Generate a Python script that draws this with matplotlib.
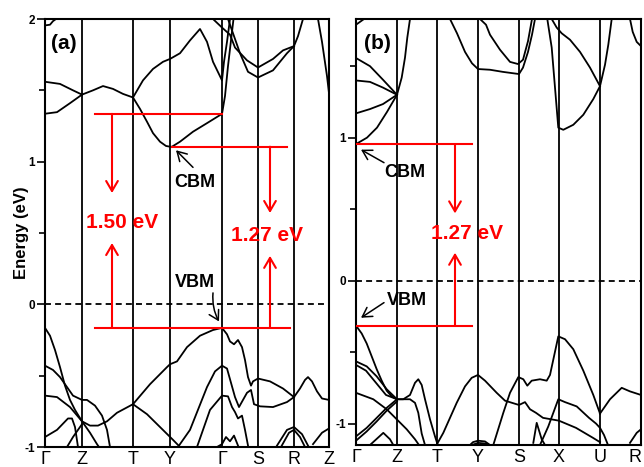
import matplotlib
matplotlib.use("Agg")
import matplotlib.pyplot as plt
from matplotlib.ticker import MultipleLocator, FuncFormatter

plt.rcParams['font.family'] = ['Liberation Sans', 'DejaVu Sans']

# ---------------- high-symmetry path ----------------
a_kpts = [0.0, 0.37, 0.88, 1.25, 1.77, 2.13, 2.49, 2.84]
a_klabels = ['Γ', 'Z', 'T', 'Y', 'Γ', 'S', 'R', 'Z']
b_kpts = [0.0, 0.41, 0.81, 1.22, 1.63, 2.03, 2.44, 2.85]
b_klabels = ['Γ', 'Z', 'T', 'Y', 'S', 'X', 'U', 'R']

# ---------------- panel (a) bands: (k, E in eV) ----------------
a_c1 = [(0, 1.56), (0.15, 1.545), (0.28, 1.50), (0.37, 1.47)]
a_c2 = [(0, 1.336), (0.12, 1.347), (0.25, 1.41), (0.37, 1.47)]
a_c3 = [(0.37, 1.47), (0.48, 1.50), (0.58, 1.53), (0.68, 1.51), (0.78, 1.475), (0.88, 1.45)]
a_c4 = [(0.88, 1.45), (0.98, 1.57), (1.08, 1.65), (1.18, 1.70), (1.25, 1.72), (1.35, 1.76),
        (1.45, 1.85), (1.55, 1.93), (1.62, 1.84), (1.68, 1.70), (1.77, 1.57), (1.79, 1.70),
        (1.82, 1.84), (1.85, 2.0)]
a_c5 = [(0.88, 1.45), (0.95, 1.37), (1.02, 1.28), (1.08, 1.20), (1.15, 1.14), (1.21, 1.11),
        (1.25, 1.105), (1.27, 1.105), (1.35, 1.14), (1.48, 1.21), (1.62, 1.27), (1.77, 1.335),
        (1.80, 1.46), (1.83, 1.67), (1.865, 1.88), (1.885, 2.0)]
a_c6 = [(1.68, 2.0), (1.77, 1.94), (1.85, 1.89), (1.90, 1.80), (2.02, 1.71), (2.13, 1.66),
        (2.28, 1.72), (2.38, 1.78), (2.49, 1.81)]
a_c7 = [(1.83, 2.0), (1.88, 1.90), (1.95, 1.76), (2.03, 1.63), (2.13, 1.59), (2.28, 1.64),
        (2.42, 1.76), (2.49, 1.81)]
a_c8 = [(2.49, 1.81), (2.53, 1.88), (2.58, 2.0)]
a_c9 = [(2.73, 2.0), (2.77, 1.84), (2.82, 1.60), (2.84, 1.48)]
a_c10 = [(0, 1.955), (0.05, 1.96), (0.08, 1.985), (0.11, 2.0)]

a_v1 = [(0, -0.165), (0.05, -0.22), (0.10, -0.32), (0.15, -0.44), (0.20, -0.57), (0.25, -0.67),
        (0.30, -0.74), (0.37, -0.82), (0.45, -0.85), (0.53, -0.85), (0.62, -0.82), (0.72, -0.76),
        (0.88, -0.70)]
a_v2 = [(0, -0.43), (0.08, -0.46), (0.15, -0.51), (0.22, -0.58), (0.28, -0.64), (0.37, -0.67),
        (0.42, -0.67), (0.50, -0.71), (0.57, -0.78), (0.62, -0.88), (0.65, -1.0)]
a_v3 = [(0, -0.64), (0.12, -0.65), (0.25, -0.72), (0.37, -0.82), (0.45, -0.90), (0.52, -0.98),
        (0.54, -1.0)]
a_v4 = [(0, -0.93), (0.12, -0.88), (0.23, -0.80), (0.27, -0.80), (0.30, -0.86), (0.33, -1.0)]
a_v5 = [(0.22, -1.0), (0.28, -0.93), (0.37, -0.84)]
a_v6 = [(0.88, -0.70), (1.05, -0.56), (1.22, -0.44), (1.25, -0.42), (1.32, -0.40), (1.42, -0.30),
        (1.55, -0.22), (1.68, -0.18), (1.77, -0.165), (1.82, -0.21), (1.85, -0.26), (1.89, -0.28),
        (1.93, -0.25), (1.97, -0.30), (2.00, -0.39), (2.03, -0.51), (2.06, -0.57), (2.08, -0.54),
        (2.13, -0.52), (2.25, -0.54), (2.38, -0.59), (2.49, -0.65), (2.55, -0.59), (2.60, -0.53),
        (2.63, -0.51), (2.67, -0.54), (2.72, -0.61), (2.77, -0.66), (2.84, -0.67)]
a_v7 = [(0.88, -0.70), (1.02, -0.77), (1.15, -0.86), (1.28, -0.95), (1.35, -1.0)]
a_v8 = [(1.33, -1.0), (1.45, -0.88), (1.62, -0.58), (1.70, -0.47), (1.77, -0.43), (1.82, -0.45),
        (1.86, -0.55), (1.90, -0.65), (1.94, -0.72), (1.98, -0.67), (2.02, -0.62), (2.06, -0.60),
        (2.09, -0.70), (2.15, -0.715), (2.28, -0.72), (2.42, -0.685), (2.49, -0.65)]
a_v9 = [(1.52, -1.0), (1.65, -0.74), (1.77, -0.64), (1.83, -0.645), (1.87, -0.72), (1.90, -0.755),
        (1.93, -0.80), (1.97, -0.78), (2.00, -0.88), (2.03, -0.99)]
a_v10 = [(1.72, -1.0), (1.77, -0.98), (1.81, -0.93), (1.85, -0.96), (1.89, -0.92), (1.93, -0.99)]
a_v11 = [(2.32, -0.99), (2.42, -0.88), (2.49, -0.86), (2.57, -0.91), (2.63, -0.99)]
a_v12 = [(2.36, -1.0), (2.44, -0.90), (2.49, -0.88), (2.55, -0.93), (2.60, -1.0)]
a_v13 = [(2.68, -0.98), (2.77, -0.90), (2.84, -0.87)]

# ---------------- panel (b) bands: (k, E in eV) ----------------
b_c1 = [(0, 1.79), (0.04, 1.81), (0.08, 1.83)]
b_c2 = [(0, 1.557), (0.14, 1.50), (0.27, 1.405), (0.41, 1.30)]
b_c3 = [(0, 1.40), (0.14, 1.39), (0.27, 1.35), (0.41, 1.30)]
b_c4 = [(0, 1.17), (0.14, 1.20), (0.27, 1.235), (0.41, 1.30)]
b_c5 = [(0, 0.955), (0.11, 1.00), (0.21, 1.07), (0.31, 1.18), (0.41, 1.30), (0.457, 1.42),
        (0.49, 1.56), (0.513, 1.70), (0.54, 1.83)]
b_c6 = [(0.94, 1.83), (1.01, 1.73), (1.09, 1.60), (1.16, 1.52), (1.22, 1.48), (1.34, 1.475),
        (1.47, 1.46), (1.63, 1.445), (1.67, 1.49), (1.72, 1.60), (1.76, 1.72), (1.79, 1.83)]
b_c7 = [(1.24, 1.83), (1.30, 1.79), (1.34, 1.72), (1.44, 1.615), (1.54, 1.53), (1.62, 1.515),
        (1.67, 1.545), (1.72, 1.675), (1.76, 1.83)]
b_c8 = [(1.913, 1.83), (1.957, 1.63), (1.99, 1.35), (2.023, 1.07), (2.073, 1.055), (2.173, 1.09),
        (2.273, 1.16), (2.373, 1.27), (2.44, 1.36), (2.49, 1.51), (2.523, 1.65), (2.557, 1.83)]
b_c9 = [(1.957, 1.83), (2.007, 1.77), (2.057, 1.73), (2.14, 1.685), (2.24, 1.60), (2.34, 1.49),
        (2.44, 1.36)]
b_c10 = [(2.74, 1.83), (2.767, 1.74), (2.807, 1.67), (2.85, 1.64)]

b_v1 = [(0, -0.315), (0.057, -0.37), (0.107, -0.44), (0.157, -0.53), (0.207, -0.62),
        (0.257, -0.70), (0.307, -0.77), (0.357, -0.81), (0.41, -0.83), (0.473, -0.83),
        (0.54, -0.83), (0.59, -0.855), (0.623, -0.925), (0.657, -1.07), (0.69, -1.15)]
b_v2 = [(0.41, -0.83), (0.473, -0.83), (0.54, -0.80), (0.59, -0.715), (0.623, -0.69),
        (0.657, -0.73), (0.69, -0.83), (0.74, -0.97), (0.79, -1.09), (0.813, -1.14)]
b_v3 = [(0, -0.565), (0.107, -0.60), (0.207, -0.67), (0.307, -0.76), (0.41, -0.83)]
b_v4 = [(0, -0.59), (0.10, -0.63), (0.20, -0.715), (0.30, -0.80), (0.41, -0.83)]
b_v5 = [(0, -0.785), (0.173, -0.83), (0.307, -0.90), (0.407, -0.97), (0.507, -1.04),
        (0.59, -1.11), (0.63, -1.15)]
b_v6 = [(0, -1.09), (0.107, -1.03), (0.207, -0.96), (0.307, -0.89), (0.41, -0.83)]
b_v6b = [(0, -1.12), (0.107, -1.055), (0.207, -0.985), (0.307, -0.91), (0.41, -0.845)]
b_v7 = [(0.14, -1.15), (0.273, -1.065), (0.34, -1.11), (0.373, -1.15)]
b_v8 = [(0.813, -1.14), (0.873, -1.065), (0.94, -0.96), (1.007, -0.855), (1.09, -0.74),
        (1.157, -0.68), (1.22, -0.66), (1.29, -0.70), (1.407, -0.785), (1.49, -0.84),
        (1.63, -0.87), (1.69, -0.85), (1.74, -0.90), (1.80, -0.925), (1.87, -0.96),
        (2.03, -0.98), (2.20, -1.03), (2.37, -1.10), (2.44, -1.13)]
b_v9 = [(1.373, -1.15), (1.473, -0.925), (1.54, -0.785), (1.623, -0.675), (1.673, -0.69),
        (1.713, -0.735), (1.757, -0.70), (1.84, -0.69), (1.907, -0.70), (1.94, -0.66),
        (1.98, -0.53), (2.023, -0.39), (2.09, -0.41), (2.173, -0.48), (2.273, -0.63),
        (2.373, -0.80), (2.44, -0.93)]
b_v10 = [(1.84, -1.15), (1.923, -1.02), (2.023, -0.83), (2.09, -0.85), (2.207, -0.88),
         (2.33, -0.96), (2.40, -1.0), (2.44, -1.03), (2.48, -1.08), (2.52, -1.15)]
b_v11 = [(2.44, -0.93), (2.54, -0.83), (2.657, -0.75), (2.74, -0.775), (2.85, -0.80)]
b_v12 = [(1.14, -1.15), (1.17, -1.13), (1.22, -1.12), (1.29, -1.125), (1.34, -1.15)]
b_v12b = [(1.16, -1.15), (1.22, -1.135), (1.30, -1.14), (1.33, -1.15)]
b_v13 = [(2.74, -1.135), (2.807, -1.065), (2.85, -1.04)]
b_v14 = [(1.773, -1.135), (1.807, -0.995), (1.857, -1.11), (1.89, -1.15)]

a_bands = [a_c1, a_c2, a_c3, a_c4, a_c5, a_c6, a_c7, a_c8, a_c9, a_c10,
           a_v1, a_v2, a_v3, a_v4, a_v5, a_v6, a_v7, a_v8, a_v9, a_v10, a_v11, a_v12, a_v13]
b_bands = [b_c1, b_c2, b_c3, b_c4, b_c5, b_c6, b_c7, b_c8, b_c9, b_c10,
           b_v1, b_v2, b_v3, b_v4, b_v5, b_v6, b_v6b, b_v7, b_v8, b_v9, b_v10, b_v11,
           b_v12, b_v12b, b_v13, b_v14]

# ---------------- band-edge energies (eV) ----------------
a_vbm, a_cb_gamma, a_cbm = -0.165, 1.335, 1.105
b_vbm, b_cbm = -0.315, 0.955
a_gap_direct = 1.50
a_gap = 1.27
b_gap = 1.27

RED = '#ff0000'
BOLD = dict(fontweight='bold')


def style_axes(ax, kpts, klabels, ylim):
    ax.set_xlim(kpts[0], kpts[-1])
    ax.set_ylim(*ylim)
    for k in kpts[1:-1]:
        ax.axvline(k, color='black', lw=1.3, zorder=1)
    ax.axhline(0, color='black', lw=1.3, ls=(0, (3.3, 2.3)), zorder=1)
    ax.set_xticks(kpts)
    ax.set_xticklabels(klabels, fontsize=13)
    ax.tick_params(axis='x', length=0, pad=3)
    ax.yaxis.set_major_locator(MultipleLocator(1))
    ax.yaxis.set_minor_locator(MultipleLocator(0.5))
    ax.yaxis.set_major_formatter(FuncFormatter(lambda v, p: f"{v:.0f}".replace('-0', '0')))
    ax.tick_params(axis='y', which='major', length=6, width=1.2, labelsize=8.5, pad=1)
    ax.tick_params(axis='y', which='minor', length=4, width=1.2)
    for lab in ax.get_yticklabels():
        lab.set_fontweight('bold')
    for sp in ax.spines.values():
        sp.set_linewidth(1.5)


def draw_bands(ax, bands):
    for band in bands:
        ks = [p[0] for p in band]
        es = [p[1] for p in band]
        ax.plot(ks, es, color='black', lw=1.3, solid_joinstyle='round', zorder=2)


def red_arrow(ax, k, e_from, e_to):
    ax.annotate('', xy=(k, e_to), xytext=(k, e_from),
                arrowprops=dict(arrowstyle='->,head_length=0.6,head_width=0.35',
                                color=RED, lw=1.5, shrinkA=0, shrinkB=0,
                                mutation_scale=12), zorder=4)


def black_arrow(ax, tip, tail, rad=0.0):
    ax.annotate('', xy=tip, xytext=tail,
                arrowprops=dict(arrowstyle='->,head_length=0.6,head_width=0.35',
                                color='black', lw=1.1, shrinkA=0, shrinkB=0,
                                mutation_scale=11,
                                connectionstyle=f'arc3,rad={rad}'), zorder=5)


fig = plt.figure(figsize=(6.44, 4.67), dpi=100)
ax_a = fig.add_axes([45 / 644, 20 / 467, 284 / 644, 428 / 467])
ax_b = fig.add_axes([356 / 644, 22 / 467, 285 / 644, 426 / 467])

# ---------------- panel (a) ----------------
style_axes(ax_a, a_kpts, a_klabels, (-1.0, 2.0))
draw_bands(ax_a, a_bands)
ax_a.set_ylabel('Energy (eV)', fontsize=12, fontweight='bold', labelpad=-3)

ax_a.plot([0.50, a_kpts[4]], [a_cb_gamma, a_cb_gamma], color=RED, lw=1.5, zorder=3)
ax_a.plot([1.27, 2.42], [a_cbm, a_cbm], color=RED, lw=1.5, zorder=3)
ax_a.plot([0.50, 2.45], [a_vbm, a_vbm], color=RED, lw=1.5, zorder=3)
red_arrow(ax_a, 0.67, a_cb_gamma, 0.78)
red_arrow(ax_a, 0.67, a_vbm, 0.43)
red_arrow(ax_a, 2.25, a_cbm, 0.64)
red_arrow(ax_a, 2.25, a_vbm, 0.34)
ax_a.text(0.775, 0.575, f'{a_gap_direct:.2f} eV', color=RED, fontsize=15, ha='center',
          va='center', zorder=6, **BOLD)
ax_a.text(2.22, 0.48, f'{a_gap:.2f} eV', color=RED, fontsize=15, ha='center',
          va='center', zorder=6, **BOLD)

ax_a.text(1.50, 0.855, 'CBM', fontsize=13, ha='center', va='center', zorder=6, **BOLD)
black_arrow(ax_a, (1.31, 1.08), (1.48, 0.96))
ax_a.text(1.50, 0.154, 'VBM', fontsize=13, ha='center', va='center', zorder=6, **BOLD)
black_arrow(ax_a, (1.74, -0.12), (1.68, 0.08), rad=0.15)
ax_a.text(0.19, 1.83, '(a)', fontsize=15, ha='center', va='center', **BOLD)

# ---------------- panel (b) ----------------
style_axes(ax_b, b_kpts, b_klabels, (-1.15, 1.83))
draw_bands(ax_b, b_bands)
# keep the last path label inside the canvas
last = ax_b.get_xticklabels()[-1]
last.set_horizontalalignment('right')

ax_b.plot([0.0, 1.16], [b_cbm, b_cbm], color=RED, lw=1.5, zorder=3)
ax_b.plot([0.0, 1.16], [b_vbm, b_vbm], color=RED, lw=1.5, zorder=3)
red_arrow(ax_b, 0.99, b_cbm, 0.47)
red_arrow(ax_b, 0.99, b_vbm, 0.195)
ax_b.text(1.11, 0.33, f'{b_gap:.2f} eV', color=RED, fontsize=15, ha='center',
          va='center', zorder=6, **BOLD)

ax_b.text(0.49, 0.755, 'CBM', fontsize=13, ha='center', va='center', zorder=6, **BOLD)
black_arrow(ax_b, (0.05, 0.916), (0.28, 0.825))
ax_b.text(0.51, -0.14, 'VBM', fontsize=13, ha='center', va='center', zorder=6, **BOLD)
black_arrow(ax_b, (0.05, -0.26), (0.28, -0.154))
ax_b.text(0.21, 1.66, '(b)', fontsize=15, ha='center', va='center', **BOLD)

fig.savefig('out.png', dpi=100)
